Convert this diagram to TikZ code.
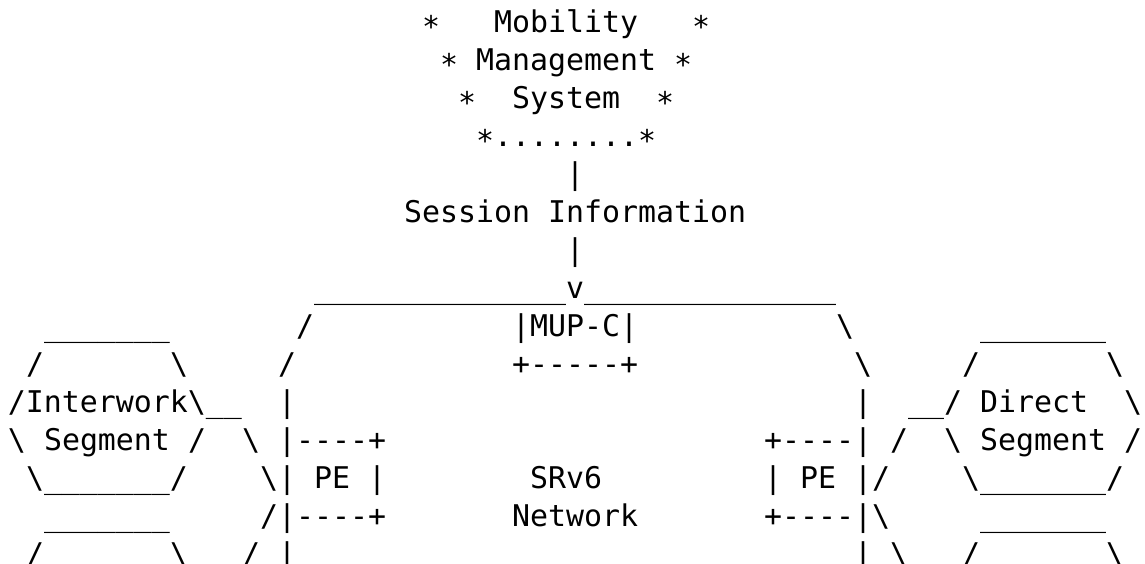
\documentclass[tikz,border=0pt]{standalone}
\usepackage{fontspec}
\setmonofont{DejaVu Sans Mono}
\tikzset{
  asc/.style={anchor=base west, inner sep=0pt, outer sep=0pt,
    font=\ttfamily\fontsize{29.9pt}{38pt}\selectfont, text=black}
}
% one run of characters on the 18pt x 38pt character grid: column, row, text
\newcommand\tok[3]{\node[asc] (t#2-#1) at ({#1*18pt},{-#2*38pt}) {#3};}
\newcommand\bs{\textbackslash}
\newcommand\us{\_\_\_\_\_\_\_}
% asterisk set a little lower, centred on the capitals
\newcommand\st{\raisebox{-5pt}{*}}
\begin{document}
\begin{tikzpicture}
\fill[white] (-8pt,32.6pt) rectangle (1137pt,-530.4pt);
\useasboundingbox (-8pt,32.6pt) rectangle (1137pt,-530.4pt);
% mobility management system
\tok{23}{0}{\st}\tok{27}{0}{Mobility}\tok{38}{0}{\st}
\tok{24}{1}{\st}\tok{26}{1}{Management}\tok{37}{1}{\st}
\tok{25}{2}{\st}\tok{28}{2}{System}\tok{36}{2}{\st}
\tok{26}{3}{\st........\st}
\tok{31}{4}{|}
\tok{22}{5}{Session}\tok{30}{5}{Information}
\tok{31}{6}{|}
% SRv6 network outline and MUP-C
\tok{17}{7}{\_\_\_\_\_\_\_\_\_\_\_\_\_\_v\_\_\_\_\_\_\_\_\_\_\_\_\_\_}
\tok{2}{8}{\us}\tok{16}{8}{/}\tok{28}{8}{|MUP-C|}\tok{46}{8}{\bs}\tok{54}{8}{\us}
\tok{1}{9}{/}\tok{9}{9}{\bs}\tok{15}{9}{/}\tok{28}{9}{+-----+}\tok{47}{9}{\bs}\tok{53}{9}{/}\tok{61}{9}{\bs}
\tok{0}{10}{/Interwork\bs\_\_}\tok{15}{10}{|}\tok{47}{10}{|}\tok{50}{10}{\_\_/}\tok{54}{10}{Direct}\tok{62}{10}{\bs}
\tok{0}{11}{\bs}\tok{2}{11}{Segment}\tok{10}{11}{/}\tok{13}{11}{\bs}\tok{15}{11}{|----+}
\tok{42}{11}{+----|}\tok{49}{11}{/}\tok{52}{11}{\bs}\tok{54}{11}{Segment}\tok{62}{11}{/}
\tok{1}{12}{\bs\us/}\tok{14}{12}{\bs|}\tok{17}{12}{PE}\tok{20}{12}{|}\tok{29}{12}{SRv6}
\tok{42}{12}{|}\tok{44}{12}{PE}\tok{47}{12}{|/}\tok{53}{12}{\bs\us/}
\tok{2}{13}{\us}\tok{14}{13}{/|----+}\tok{28}{13}{Network}\tok{42}{13}{+----|\bs}\tok{54}{13}{\us}
\tok{1}{14}{/}\tok{9}{14}{\bs}\tok{13}{14}{/}\tok{15}{14}{|}\tok{47}{14}{|}\tok{49}{14}{\bs}\tok{53}{14}{/}\tok{61}{14}{\bs}
\end{tikzpicture}
\end{document}
